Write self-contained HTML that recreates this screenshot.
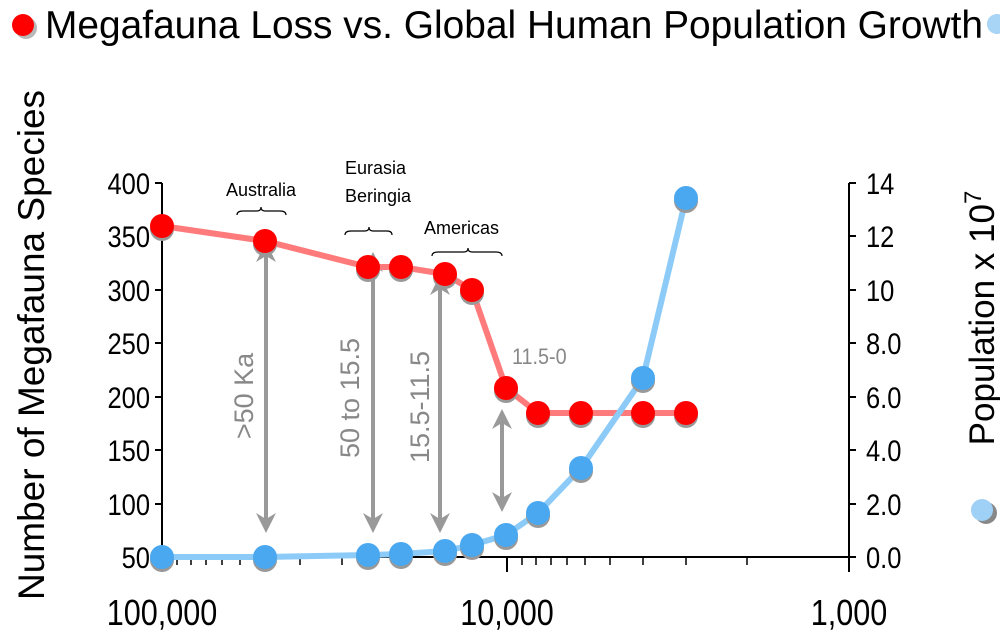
<!DOCTYPE html>
<html><head><style>
html,body{margin:0;padding:0;background:#fff;}
svg{display:block;font-family:"Liberation Sans",sans-serif;}
</style></head><body>
<svg width="1000" height="637" viewBox="0 0 1000 637" xmlns="http://www.w3.org/2000/svg">
<defs>
<marker id="ah" viewBox="0 0 10 10" refX="5" refY="5" markerWidth="5" markerHeight="5" orient="auto-start-reverse"><path d="M0,0 L10,5 L0,10 L3,5 z" fill="#999"/></marker>
</defs>
<!-- title -->
<circle cx="26" cy="28" r="11" fill="#888" opacity="0.6"/>
<circle cx="23" cy="25" r="11" fill="#f00"/>
<text x="45" y="38" font-size="39" textLength="938" lengthAdjust="spacingAndGlyphs">Megafauna Loss vs. Global Human Population Growth</text>
<circle cx="997" cy="24" r="10" fill="#a8d4f5"/>
<!-- axis titles -->
<text transform="translate(44 345) rotate(-90)" text-anchor="middle" font-size="37">Number of Megafauna Species</text>
<text transform="translate(994 318) rotate(-90)" text-anchor="middle" font-size="35">Population x 10<tspan dy="-13" font-size="24">7</tspan></text>
<circle cx="986" cy="513" r="11" fill="#555" opacity="0.7"/>
<circle cx="982" cy="510" r="11" fill="#9fd0f5"/>
<!-- axes -->
<g stroke="#000" stroke-width="2" fill="none">
<path d="M162 183 V557"/>
<path d="M849 183 V557"/>
<path d="M162 557 H849"/>
<path d="M155 183H162M155 236H162M155 290H162M155 343H162M155 397H162M155 450H162M155 504H162M155 557H162"/>
<path d="M849 183H856M849 236H856M849 290H856M849 343H856M849 397H856M849 450H856M849 504H856M849 557H856"/>
<path d="M162 557V572M507 557V572M849 557V572"/>
<path d="M177 557V565M191 557V565M206 557V565M222 557V565M240 557V565M265 557V565M300 557V565M342 557V565M403 557V565
M522 557V565M536 557V565M551 557V565M567 557V565M585 557V565M610 557V565M643 557V565M686 557V565M747 557V565" stroke-width="1.5"/>
</g>
<g font-size="30" text-anchor="end">
<g transform="translate(150 0) scale(0.85 1)">
<text x="0" y="194">400</text><text x="0" y="247">350</text><text x="0" y="301">300</text><text x="0" y="354">250</text><text x="0" y="408">200</text><text x="0" y="461">150</text><text x="0" y="515">100</text><text x="0" y="568">50</text>
</g>
</g>
<g font-size="30" text-anchor="start">
<g transform="translate(866 0) scale(0.85 1)">
<text x="0" y="194">14</text><text x="0" y="247">12</text><text x="0" y="301">10</text><text x="0" y="354">8.0</text><text x="0" y="408">6.0</text><text x="0" y="461">4.0</text><text x="0" y="515">2.0</text><text x="0" y="568">0.0</text>
</g>
</g>
<g font-size="36" text-anchor="middle">
<text x="162" y="625" transform="translate(162 0) scale(0.85 1) translate(-162 0)">100,000</text>
<text x="507" y="625" transform="translate(507 0) scale(0.85 1) translate(-507 0)">10,000</text>
<text x="849" y="625" transform="translate(849 0) scale(0.85 1) translate(-849 0)">1,000</text>
</g>
<!-- annotations -->
<g font-size="18">
<text x="261" y="196" text-anchor="middle">Australia</text>
<text x="345" y="174">Eurasia</text>
<text x="345" y="202">Beringia</text>
<text x="424" y="234">Americas</text>
</g>
<g stroke="#000" stroke-width="1.2" fill="none">
<path d="M237 215 q0 -4 6 -4 h14 q4 0 4 -4 q0 4 4 4 h15 q6 0 6 4"/>
<path d="M345 235 q0 -4 6 -4 h14 q4 0 4 -4 q0 4 4 4 h14 q5 0 5 4"/>
<path d="M432 256 q0 -4 6 -4 h26 q4 0 4 -4 q0 4 4 4 h24 q6 0 6 4"/>
</g>
<g stroke="#999" stroke-width="4" marker-start="url(#ah)" marker-end="url(#ah)">
<line x1="266" y1="252" x2="266" y2="523"/>
<line x1="373" y1="262" x2="373" y2="523"/>
<line x1="440" y1="285" x2="440" y2="523"/>
<line x1="502" y1="419" x2="502" y2="502"/>
</g>
<g fill="#888" font-size="27">
<text transform="translate(253 396) rotate(-90)" text-anchor="middle">&gt;50 Ka</text>
<text transform="translate(359 398) rotate(-90)" text-anchor="middle">50 to 15.5</text>
<text transform="translate(429 407) rotate(-90)" text-anchor="middle">15.5-11.5</text>
<text x="512" y="364" font-size="22" transform="translate(512 0) scale(0.9 1) translate(-512 0)">11.5-0</text>
</g>
<!-- red series -->
<polyline points="162,226 265,241 368,267 401,267 445,274 472,290 506,388 538,413 581,413 643,413 686,413" fill="none" stroke="#ff7b7b" stroke-width="6"/>
<g fill="#999">
<circle cx="162" cy="229" r="12"/><circle cx="265" cy="244" r="12"/><circle cx="368" cy="270" r="12"/><circle cx="401" cy="270" r="12"/><circle cx="445" cy="277" r="12"/><circle cx="472" cy="293" r="12"/><circle cx="506" cy="391" r="12"/><circle cx="538" cy="416" r="12"/><circle cx="581" cy="416" r="12"/><circle cx="643" cy="416" r="12"/><circle cx="686" cy="416" r="12"/>
</g>
<g fill="#f00">
<circle cx="162" cy="226" r="12"/><circle cx="265" cy="241" r="12"/><circle cx="368" cy="267" r="12"/><circle cx="401" cy="267" r="12"/><circle cx="445" cy="274" r="12"/><circle cx="472" cy="290" r="12"/><circle cx="506" cy="388" r="12"/><circle cx="538" cy="413" r="12"/><circle cx="581" cy="413" r="12"/><circle cx="643" cy="413" r="12"/><circle cx="686" cy="413" r="12"/>
</g>
<!-- blue series -->
<polyline points="162,557 265,557 368,555 401,554 445,551 472,545 506,535 538,513 581,468 643,378 686,198" fill="none" stroke="#8ccbf7" stroke-width="6"/>
<g fill="#999">
<circle cx="162" cy="560" r="12"/><circle cx="265" cy="560" r="12"/><circle cx="368" cy="558" r="12"/><circle cx="401" cy="557" r="12"/><circle cx="445" cy="554" r="12"/><circle cx="472" cy="548" r="12"/><circle cx="506" cy="538" r="12"/><circle cx="538" cy="516" r="12"/><circle cx="581" cy="471" r="12"/><circle cx="643" cy="381" r="12"/><circle cx="686" cy="201" r="12"/>
</g>
<g fill="#4aa8f0">
<circle cx="162" cy="557" r="12"/><circle cx="265" cy="557" r="12"/><circle cx="368" cy="555" r="12"/><circle cx="401" cy="554" r="12"/><circle cx="445" cy="551" r="12"/><circle cx="472" cy="545" r="12"/><circle cx="506" cy="535" r="12"/><circle cx="538" cy="513" r="12"/><circle cx="581" cy="468" r="12"/><circle cx="643" cy="378" r="12"/><circle cx="686" cy="198" r="12"/>
</g>
</svg>
</body></html>
